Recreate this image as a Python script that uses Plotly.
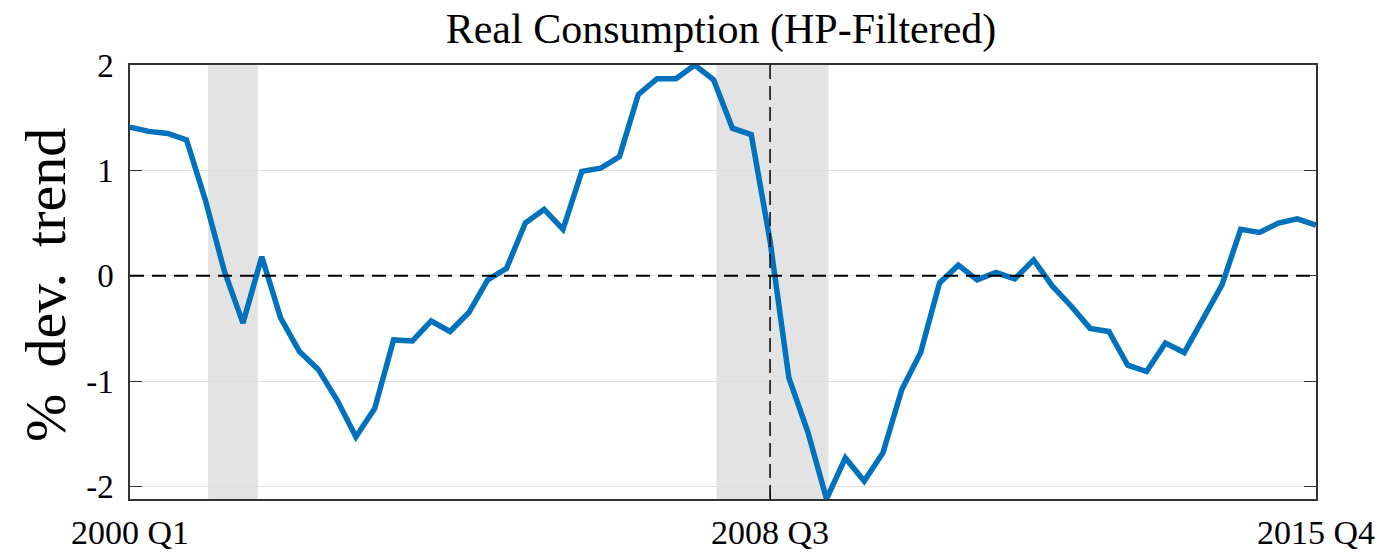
import plotly.graph_objects as go

# Quarterly index: 0 = 2000 Q1 ... 63 = 2015 Q4
quarters = list(range(64))

# Real consumption, percent deviation from HP trend
consumption_dev = [
    1.41, 1.37, 1.35, 1.29, 0.72, 0.05, -0.45, 0.18, -0.40, -0.72,
    -0.89, -1.18, -1.53, -1.26, -0.61, -0.62, -0.43, -0.53, -0.35, -0.04,
    0.07, 0.50, 0.63, 0.44, 0.99, 1.02, 1.13, 1.72, 1.87, 1.87,
    2.00, 1.86, 1.40, 1.34, 0.33, -0.97, -1.48, -2.12, -1.73, -1.95,
    -1.68, -1.08, -0.73, -0.07, 0.10, -0.04, 0.03, -0.03, 0.15, -0.10,
    -0.29, -0.50, -0.53, -0.85, -0.91, -0.64, -0.73, -0.40, -0.09, 0.44,
    0.41, 0.50, 0.54, 0.48,
]

# Recession periods (in quarter-index units)
recessions = [(4.15, 6.8), (31.15, 37.1)]

# Reference marker: 2008 Q3
event_quarter = 34

x_tickvals = [0, 34, 63]
x_ticktext = ["2000 Q1", "2008 Q3", "2015 Q4"]
y_tickvals = [-2, -1, 0, 1, 2]
y_ticktext = ["-2", "-1", "0", "1", "2"]

FONT = "Liberation Serif"

fig = go.Figure()

for x0, x1 in recessions:
    fig.add_shape(type="rect", xref="x", yref="paper", x0=x0, x1=x1, y0=0, y1=1,
                  fillcolor="#e3e3e3", line_width=0, layer="below")

fig.add_shape(type="line", xref="paper", yref="y", x0=0, x1=1, y0=0, y1=0,
              line=dict(color="black", width=2, dash="14px,8px"), layer="above")
fig.add_shape(type="line", xref="x", yref="paper", x0=event_quarter, x1=event_quarter,
              y0=0, y1=1, line=dict(color="black", width=1.5, dash="14px,7px"), layer="above")

fig.add_trace(go.Scatter(
    x=quarters, y=consumption_dev, mode="lines",
    line=dict(color="#0072BD", width=5.5),
    showlegend=False, hoverinfo="skip",
))

fig.update_layout(
    width=1387, height=557,
    margin=dict(l=130, r=71, t=65, b=58, autoexpand=False),
    plot_bgcolor="white", paper_bgcolor="white",
    font=dict(family=FONT, color="black"),
    title=dict(text="Real Consumption (HP-Filtered)", x=721 / 1387, xanchor="center",
               xref="container", yref="container", y=1 - 28 / 557, yanchor="middle",
               font=dict(size=42, family=FONT, color="black")),
    xaxis=dict(range=[0, 63], tickvals=x_tickvals, ticktext=x_ticktext,
               showgrid=False, zeroline=False, showline=True, linecolor="#333333",
               linewidth=1.5, mirror=True, ticks="inside", ticklen=10, tickcolor="#333333",
               tickfont=dict(size=34, family=FONT), ticklabelstandoff=2, automargin=False),
    yaxis=dict(range=[-2.12, 2.0], tickvals=y_tickvals, ticktext=y_ticktext,
               showgrid=True, gridcolor="#dedede", gridwidth=1, zeroline=False,
               showline=True, linecolor="#333333", linewidth=1.5, mirror="ticks",
               ticks="inside", ticklen=12, tickcolor="#333333",
               tickfont=dict(size=33, family=FONT), ticklabelstandoff=8, automargin=False),
    annotations=[dict(text="%\u2009 dev.\u2009 trend", xref="paper", yref="paper",
                      x=(45 - 130) / 1186, y=(499 - 285) / 434,
                      xanchor="center", yanchor="middle", textangle=-90,
                      showarrow=False, font=dict(size=58, family=FONT, color="black"))],
)

fig.write_html("out.html")
